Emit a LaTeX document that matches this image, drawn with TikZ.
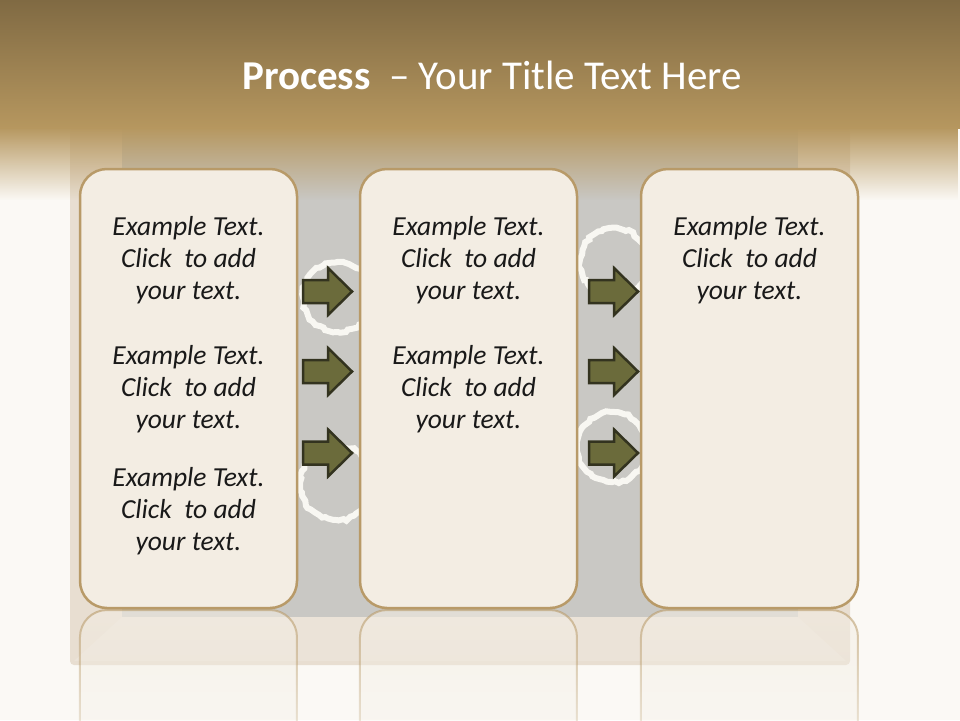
\documentclass[tikz,border=0pt]{standalone}
\usepackage{fontspec}
\setmainfont{Carlito}
\usetikzlibrary{fadings,decorations.pathmorphing}
\definecolor{bandtop}{HTML}{806A43}
\definecolor{bandbot}{HTML}{B6975F}
\definecolor{bgwhite}{HTML}{FBF9F5}
\definecolor{framebeige}{HTML}{E8DED1}
\definecolor{framelight}{HTML}{EBE3D8}
\definecolor{boardgray}{HTML}{C9C8C4}
\definecolor{boxfill}{HTML}{F3EDE3}
\definecolor{boxline}{HTML}{B89A68}
\definecolor{arrowfill}{HTML}{6B6B3B}
\definecolor{arrowline}{HTML}{33331F}
\definecolor{chalkwhite}{HTML}{F8F7F2}
\tikzfading[name=fadedown, top color=transparent!0, bottom color=transparent!100]
\tikzfading[name=reflfade, top color=transparent!40, bottom color=transparent!92]
\tikzset{
  panel/.style={draw=boxline, line width=2.5pt, fill=boxfill, rounded corners=27pt,
    minimum width=217pt, minimum height=439pt, inner sep=0pt},
  bodytext/.style={font=\fontsize{27.5}{32}\selectfont\itshape, align=center, text=black!90, inner sep=0pt},
  chalk/.style={draw=chalkwhite, line width=6pt, decorate,
    decoration={random steps, segment length=4pt, amplitude=1.5pt}},
  blockarrow/.style={draw=arrowline, fill=arrowfill, line width=2.5pt, line join=miter},
  refl/.style={draw=boxline, line width=2pt, fill=boxfill, rounded corners=27pt, path fading=reflfade},
  rarrow/.pic={\draw[blockarrow] (-25,-11.5) -- (0,-11.5) -- (0,-23.5) -- (24,0) -- (0,23.5) -- (0,11.5) -- (-25,11.5) -- cycle;}
}
\begin{document}
\begin{tikzpicture}[x=1pt,y=-1pt]
\useasboundingbox (0,0) rectangle (960,720);
\begin{scope}
\clip (0,0) rectangle (960,720);
% background
\fill[bgwhite] (0,0) rectangle (960,720);
% frame and board
\fill[framebeige, rounded corners=4pt] (70,128) rectangle (850,665);
\fill[framelight] (122,617) -- (798,617) -- (846,661) -- (74,661) -- cycle;
\fill[boardgray] (122,128) rectangle (798,617);
% fade below the band
\fill[bandbot, path fading=fadedown] (0,127) rectangle (960,200);
% top band
\shade[top color=bandtop, bottom color=bandbot] (0,0) rectangle (960,128);
% chalk rings
\draw[chalk] (338,297) circle [radius=35];
\draw[chalk] (337,483) circle [radius=37];
\draw[chalk] (614,262) circle [radius=34];
\draw[chalk] (612,447) circle [radius=35];
% reflections
\path[refl] (80,610) rectangle (297,770);
\path[refl] (360,610) rectangle (577,770);
\path[refl] (641,610) rectangle (858,770);
\end{scope}
% title
\node[font=\fontsize{41}{48}\selectfont, text=white] (title) at (492,75)
  {\textbf{Process}~~– Your Title Text Here};
% panels
\node[panel] (box1) at (188.5,388.5) {};
\node[panel] (box2) at (468.5,388.5) {};
\node[panel] (box3) at (749.5,388.5) {};
% arrows
\pic at (328,291.5) {rarrow};
\pic at (328,371.5) {rarrow};
\pic at (328,453) {rarrow};
\pic at (614,291.5) {rarrow};
\pic at (614,371.5) {rarrow};
\pic at (614,453) {rarrow};
% texts
\node[bodytext] (t11) at (188.5,260) {Example Text.\\Click~ to add\\your text.};
\node[bodytext] (t12) at (188.5,389) {Example Text.\\Click~ to add\\your text.};
\node[bodytext] (t13) at (188.5,511) {Example Text.\\Click~ to add\\your text.};
\node[bodytext] (t21) at (468.5,260) {Example Text.\\Click~ to add\\your text.};
\node[bodytext] (t22) at (468.5,389) {Example Text.\\Click~ to add\\your text.};
\node[bodytext] (t31) at (749.5,260) {Example Text.\\Click~ to add\\your text.};
\end{tikzpicture}
\end{document}
